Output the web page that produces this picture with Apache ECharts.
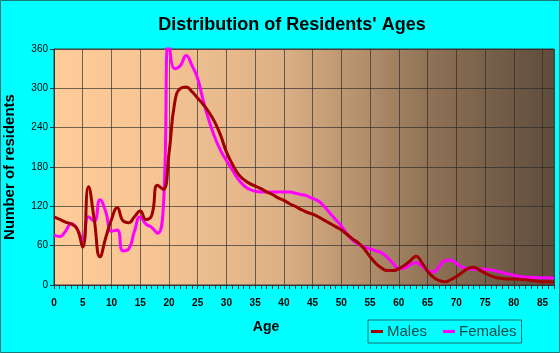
<!DOCTYPE html>
<html>
<head>
<meta charset="utf-8">
<script src="https://cdn.jsdelivr.net/npm/echarts@6/dist/echarts.min.js"></script>
<style>
html,body{margin:0;padding:0;background:#00FFFF;}
#c{width:560px;height:353px;}
</style>
</head>
<body>
<div id="c"></div>
<script>
var ages = [0,1,2,3,4,5,6,7,8,9,10,11,12,13,14,15,16,17,18,19,20,21,22,23,24,25,26,27,28,29,30,31,32,33,34,35,36,37,38,39,40,41,42,43,44,45,46,47,48,49,50,51,52,53,54,55,56,57,58,59,60,61,62,63,64,65,66,67,68,69,70,71,72,73,74,75,76,77,78,79,80,81,82,83,84,85,86,87];
var males = [104,100,96,93,86,58,150,100,43,72,100,118,98,95,104,113,100,106,152,146,200,278,300,302,295,285,275,263,248,228,203,185,170,161,155,151,147,142,138,133,129,124,120,115,111,108,104,99,94,89,84,77,70,64,55,43,33,26,22,22,25,30,37,44,34,21,12,7,5,8,13,19,25,27,23,18,14,11,10,9,9,8.6,8,7,6,5,5,4.5];
var females = [76,74,82,94,86,68,104,97,130,112,82,84,52,55,82,104,93,88,79,115,375,330,335,350,335,315,280,250,225,205,190,176,162,152,146,143,142,142,142,142,142,142,140,138,136,132,128,120,110,100,90,78,68,62,58,55,52,49,42,33,25,26,31,34,29,22,20,28,37,38,33,27,25,24,24,24,23,21,19,17,15,13,12,12,11,11,11,10];
var yTicks = [0,60,120,180,240,300,360];

function pairs(v){ return ages.map(function(a,i){ return [a, v[i]]; }); }

var chart = echarts.init(document.getElementById('c'), null, {renderer:'canvas'});
var FONT = '"Liberation Sans", Arial, sans-serif';
chart.setOption({
  backgroundColor: '#00FFFF',
  animation: false,
  grid: {
    left: 54, right: 6, top: 49, bottom: 68,
    containLabel: false,
    outerBoundsMode: 'none',
    show: true,
    borderColor: '#3a3a3a', borderWidth: 1,
    backgroundColor: {
      type: 'linear', x: 0, y: 0, x2: 1, y2: 0,
      colorStops: [
        {offset: 0, color: '#FFCC99'},
        {offset: 0.2, color: '#F6C593'},
        {offset: 0.45, color: '#DDB187'},
        {offset: 0.6, color: '#B8936F'},
        {offset: 0.75, color: '#8F7256'},
        {offset: 1, color: '#5E4C3C'}
      ]
    }
  },
  legend: {
    data: ['Males', 'Females'],
    left: 368, top: 320,
    orient: 'horizontal',
    icon: 'rect', itemWidth: 12, itemHeight: 3,
    itemGap: 16,
    padding: [4, 5, 4, 3],
    borderColor: '#1f6f6f', borderWidth: 1,
    textStyle: {fontFamily: FONT, fontSize: 15, color: '#0d4a4a', padding: [0,0,0,-1]}
  },
  xAxis: [{
    type: 'value', min: 0, max: 87, interval: 5,
    axisLine: {show: true, lineStyle: {color: '#333', width: 1}},
    axisTick: {show: false},
    axisLabel: {
      margin: 13, fontFamily: FONT, fontSize: 10, fontWeight: 'bold', color: '#000',
      formatter: function(v){ return v % 5 === 0 ? String(v) : ''; }
    },
    splitLine: {show: true, lineStyle: {color: 'rgba(40,40,40,0.65)', width: 1}}
  }, {
    type: 'value', min: 0, max: 87, interval: 1, position: 'bottom',
    axisLine: {show: false},
    axisTick: {show: true, length: 4, lineStyle: {color: '#333'}},
    axisLabel: {show: false},
    splitLine: {show: false}
  }],
  yAxis: {
    type: 'value', min: 0, max: 360, interval: 60,
    name: 'Number of residents', nameLocation: 'middle', nameGap: 37,
    nameTextStyle: {fontFamily: FONT, fontSize: 15, fontWeight: 'bold', color: '#000'},
    axisLine: {show: true, lineStyle: {color: '#333', width: 1}},
    axisTick: {show: true, length: 4, lineStyle: {color: '#333'}},
    axisLabel: {margin: 6, fontFamily: FONT, fontSize: 10, color: '#000'},
    splitLine: {show: true, lineStyle: {color: 'rgba(40,40,40,0.65)', width: 1}}
  },
  graphic: [
    {type: 'text', x: 292, y: 25, style: {text: "Distribution of Residents' Ages", font: 'bold 18px ' + FONT, fill: '#000', align: 'center', verticalAlign: 'middle'}},
    {type: 'text', x: 266, y: 327, style: {text: 'Age', font: 'bold 14px ' + FONT, fill: '#000', align: 'center', verticalAlign: 'middle'}},
    {type: 'rect', shape: {x: 0.5, y: 0.5, width: 559, height: 352}, style: {fill: null, stroke: '#1a7a7a', lineWidth: 1}}
  ],
  series: [
    {name: 'Females', type: 'line', data: pairs(females), smooth: 0.5, showSymbol: false, symbol: 'none',
     lineStyle: {color: '#FF00FF', width: 3}, itemStyle: {color: '#FF00FF'}},
    {name: 'Males', type: 'line', data: pairs(males), smooth: 0.5, showSymbol: false, symbol: 'none',
     lineStyle: {color: '#A00000', width: 3}, itemStyle: {color: '#A00000'}}
  ]
});
</script>
</body>
</html>
